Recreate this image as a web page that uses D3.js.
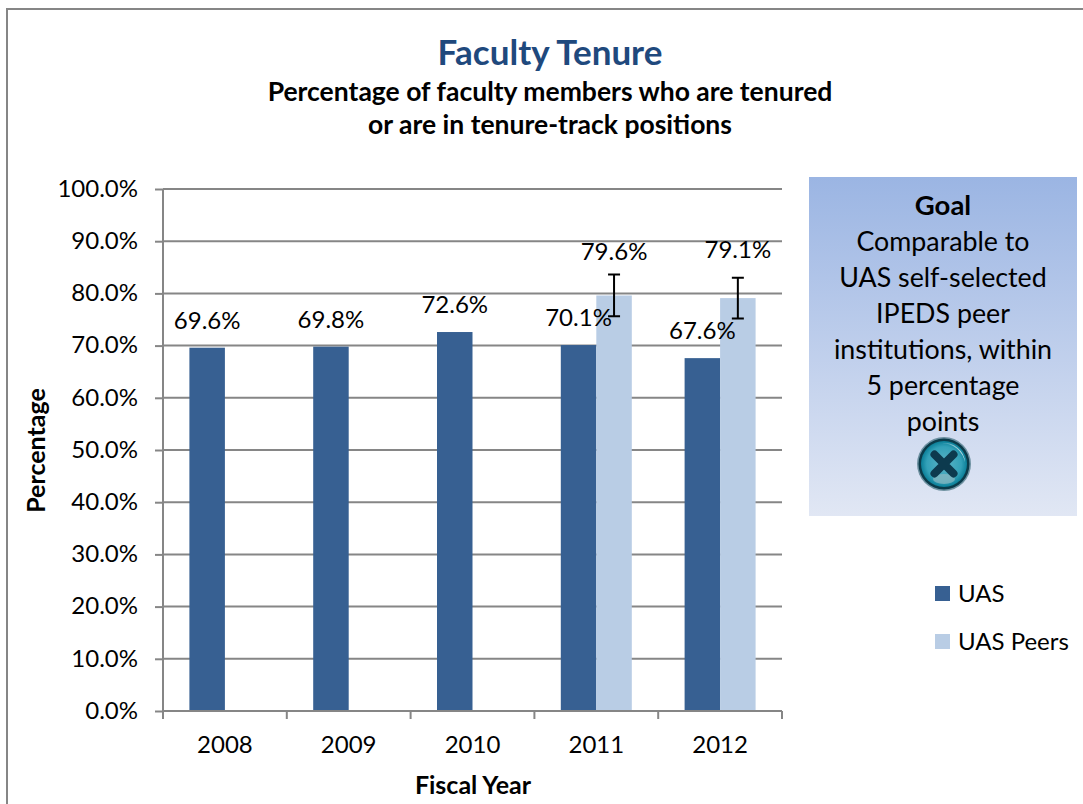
<!DOCTYPE html>
<html>
<head>
<meta charset="utf-8">
<script src="https://cdn.jsdelivr.net/npm/d3@7"></script>
<style>
  html, body { margin: 0; padding: 0; background: #fff; }
  svg { display: block; }
  text { font-family: Lato, "Open Sans", sans-serif; fill: #000; }
</style>
</head>
<body>
<div class="svg-container"></div>
<script>
const years = ['2008', '2009', '2010', '2011', '2012'];
const uasValues = [69.6, 69.8, 72.6, 70.1, 67.6];
const peerValues = [null, null, null, 79.6, 79.1];
const peerError = [null, null, null, 4, 3.9];
const yTicks = [0, 10, 20, 30, 40, 50, 60, 70, 80, 90, 100];
const seriesNames = ['UAS', 'UAS Peers'];
const goalLines = ['Comparable to', 'UAS self-selected', 'IPEDS peer', 'institutions, within', '5 percentage', 'points'];

const width = 1083;
const height = 804;
const plot = { left: 163, right: 782, top: 189, bottom: 711 };
const barWidth = 35.5;
const colors = { UAS: '#376092', Peers: '#b9cde5', axis: '#868686' };

const svg = d3.select('.svg-container')
  .append('svg')
  .attr('width', width)
  .attr('height', height);

// chart frame, runs off the bottom and right of the picture
svg.append('path')
  .attr('d', `M7,${height} V9 H${width}`)
  .attr('fill', 'none')
  .attr('stroke', '#868686')
  .attr('stroke-width', 2);

const x = d3.scaleBand().domain(years).range([plot.left, plot.right]);
const y = d3.scaleLinear().domain([0, 100]).range([plot.bottom, plot.top]);

// gridlines
svg.append('g')
  .selectAll('line')
  .data(yTicks.slice(1))
  .enter()
  .append('line')
  .attr('x1', plot.left)
  .attr('x2', plot.right)
  .attr('y1', d => y(d))
  .attr('y2', d => y(d))
  .attr('stroke', colors.axis)
  .attr('stroke-width', 2);

// bars
const bars = svg.append('g');
bars.selectAll('rect.uas')
  .data(uasValues)
  .enter()
  .append('rect')
  .attr('class', 'uas')
  .attr('x', (d, i) => x(years[i]) + x.bandwidth() / 2 - barWidth)
  .attr('y', d => y(d))
  .attr('width', barWidth)
  .attr('height', d => y(0) - y(d))
  .attr('fill', colors.UAS);

bars.selectAll('rect.peer')
  .data(peerValues)
  .enter()
  .filter(d => d !== null)
  .append('rect')
  .attr('class', 'peer')
  .attr('x', (d, i) => x(years[peerValues.indexOf(d)]) + x.bandwidth() / 2)
  .attr('y', d => y(d))
  .attr('width', barWidth)
  .attr('height', d => y(0) - y(d))
  .attr('fill', colors.Peers);

// axes
const yAxis = d3.axisLeft(y).tickValues(yTicks).tickSize(8).tickPadding(17)
  .tickFormat(d => d.toFixed(1) + '%');
const yG = svg.append('g').attr('transform', `translate(${plot.left},0)`).call(yAxis);
yG.select('.domain').attr('d', `M0,${plot.top}V${plot.bottom + 8}`);

const xAxis = d3.axisBottom(x).tickSize(0).tickPadding(25);
const xG = svg.append('g').attr('transform', `translate(0,${plot.bottom})`).call(xAxis);
xG.select('.domain').attr('d', `M${plot.left},0H${plot.right}`);
xG.append('g')
  .selectAll('line')
  .data(years.map(d => x(d)).concat(plot.right))
  .enter()
  .append('line')
  .attr('x1', d => d)
  .attr('x2', d => d)
  .attr('y1', 0)
  .attr('y2', 8)
  .attr('stroke', colors.axis)
  .attr('stroke-width', 2);

svg.selectAll('.domain, .tick line')
  .attr('stroke', colors.axis)
  .attr('stroke-width', 2);
svg.selectAll('.tick text')
  .attr('font-size', 24)
  .style('font-size', '24px')
  .style('font-family', 'Lato, "Open Sans", sans-serif')
  .attr('fill', '#000');
yG.selectAll('.tick text').attr('dy', '0.3em');

// error bars on peers
const errors = svg.append('g').attr('stroke', '#000').attr('stroke-width', 2).attr('fill', 'none');
peerValues.forEach((v, i) => {
  if (v === null) return;
  const cx = x(years[i]) + x.bandwidth() / 2 + barWidth / 2;
  const top = y(v + peerError[i]);
  const bottom = y(v - peerError[i]);
  errors.append('path')
    .attr('d', `M${cx - 6},${top}H${cx + 6}M${cx},${top}V${bottom}M${cx - 6},${bottom}H${cx + 6}`);
});

// data labels; the peers labels sit higher to clear the error bars
const labelSize = 24;
const addLabel = (v, cx, lift) => svg.append('text')
  .attr('x', cx)
  .attr('y', y(v) - lift)
  .attr('text-anchor', 'middle')
  .attr('font-size', labelSize)
  .text(v.toFixed(1) + '%');

uasValues.forEach((v, i) => {
  addLabel(v, x(years[i]) + x.bandwidth() / 2 - barWidth / 2, 19);
});
const peerLift = { 3: 35, 4: 40 };
peerValues.forEach((v, i) => {
  if (v === null) return;
  addLabel(v, x(years[i]) + x.bandwidth() / 2 + barWidth / 2, peerLift[i]);
});

// titles
svg.append('text')
  .attr('x', 550).attr('y', 65)
  .attr('text-anchor', 'middle')
  .attr('font-size', 35).attr('font-weight', 700)
  .style('fill', '#1f497d')
  .text('Faculty Tenure');
svg.append('text')
  .attr('x', 550).attr('y', 101)
  .attr('text-anchor', 'middle')
  .attr('font-size', 26.5).attr('font-weight', 700)
  .text('Percentage of faculty members who are tenured');
svg.append('text')
  .attr('x', 550).attr('y', 134)
  .attr('text-anchor', 'middle')
  .attr('font-size', 26.5).attr('font-weight', 700)
  .text('or are in tenure-track positions');

svg.append('text')
  .attr('transform', 'translate(45,450.5) rotate(-90)')
  .attr('text-anchor', 'middle')
  .attr('font-size', 25).attr('font-weight', 700)
  .text('Percentage');
svg.append('text')
  .attr('x', 473).attr('y', 794)
  .attr('text-anchor', 'middle')
  .attr('font-size', 25).attr('font-weight', 700)
  .text('Fiscal Year');

// goal box
const defs = svg.append('defs');
const boxGrad = defs.append('linearGradient').attr('id', 'goalFill')
  .attr('x1', 0).attr('x2', 0).attr('y1', 0).attr('y2', 1);
boxGrad.append('stop').attr('offset', 0).attr('stop-color', '#9bb5e3');
boxGrad.append('stop').attr('offset', 1).attr('stop-color', '#e1e7f4');

svg.append('rect')
  .attr('x', 809).attr('y', 177)
  .attr('width', 268).attr('height', 339)
  .attr('fill', 'url(#goalFill)');

svg.append('text')
  .attr('x', 943).attr('y', 215)
  .attr('text-anchor', 'middle')
  .attr('font-size', 27.5).attr('font-weight', 700)
  .text('Goal');
svg.append('g')
  .selectAll('text')
  .data(goalLines)
  .enter()
  .append('text')
  .attr('x', 943)
  .attr('y', (d, i) => 251 + i * 36)
  .attr('text-anchor', 'middle')
  .attr('font-size', 26.8)
  .text(d => d);

// status icon: glossy teal ball with a dark x
const ballGrad = defs.append('radialGradient').attr('id', 'ball')
  .attr('cx', 0.5).attr('cy', 0.5).attr('r', 0.5);
ballGrad.append('stop').attr('offset', 0).attr('stop-color', '#5cb3c6');
ballGrad.append('stop').attr('offset', 0.75).attr('stop-color', '#33a1b8');
ballGrad.append('stop').attr('offset', 1).attr('stop-color', '#0b7f98');

const shineGrad = defs.append('linearGradient').attr('id', 'shine')
  .attr('x1', 0).attr('x2', 1).attr('y1', 0).attr('y2', 1);
shineGrad.append('stop').attr('offset', 0).attr('stop-color', '#ffffff').attr('stop-opacity', 0.25);
shineGrad.append('stop').attr('offset', 1).attr('stop-color', '#ffffff').attr('stop-opacity', 0.9);

const icon = svg.append('g').attr('transform', 'translate(944,464)');
icon.append('circle').attr('r', 27).attr('fill', '#17505f').attr('opacity', 0.55);
icon.append('circle').attr('r', 25.5).attr('fill', '#0b3b4a');
icon.append('circle').attr('r', 23).attr('fill', 'url(#ball)');
icon.append('path')
  .attr('d', 'M-2,-21A21,21 0 0 1 21,-2A24,24 0 0 0 -2,-21Z')
  .attr('fill', 'url(#shine)');
icon.append('ellipse')
  .attr('cy', 15).attr('rx', 11).attr('ry', 5)
  .attr('fill', '#8fb9c2').attr('opacity', 0.7);
icon.append('path')
  .attr('d', 'M-9.5,-9.5L9.5,9.5M9.5,-9.5L-9.5,9.5')
  .attr('stroke', '#0d3a4e')
  .attr('stroke-width', 8)
  .attr('stroke-linecap', 'round');

// legend
const legend = svg.append('g');
const legendRows = [{ name: seriesNames[0], color: colors.UAS, y: 594 }, { name: seriesNames[1], color: colors.Peers, y: 642 }];
legend.selectAll('rect')
  .data(legendRows)
  .enter()
  .append('rect')
  .attr('x', 935)
  .attr('y', d => d.y - 8)
  .attr('width', 15)
  .attr('height', 15)
  .attr('fill', d => d.color);
legend.selectAll('text')
  .data(legendRows)
  .enter()
  .append('text')
  .attr('x', 958)
  .attr('y', d => d.y + 8)
  .attr('font-size', 24)
  .text(d => d.name);
</script>
</body>
</html>
